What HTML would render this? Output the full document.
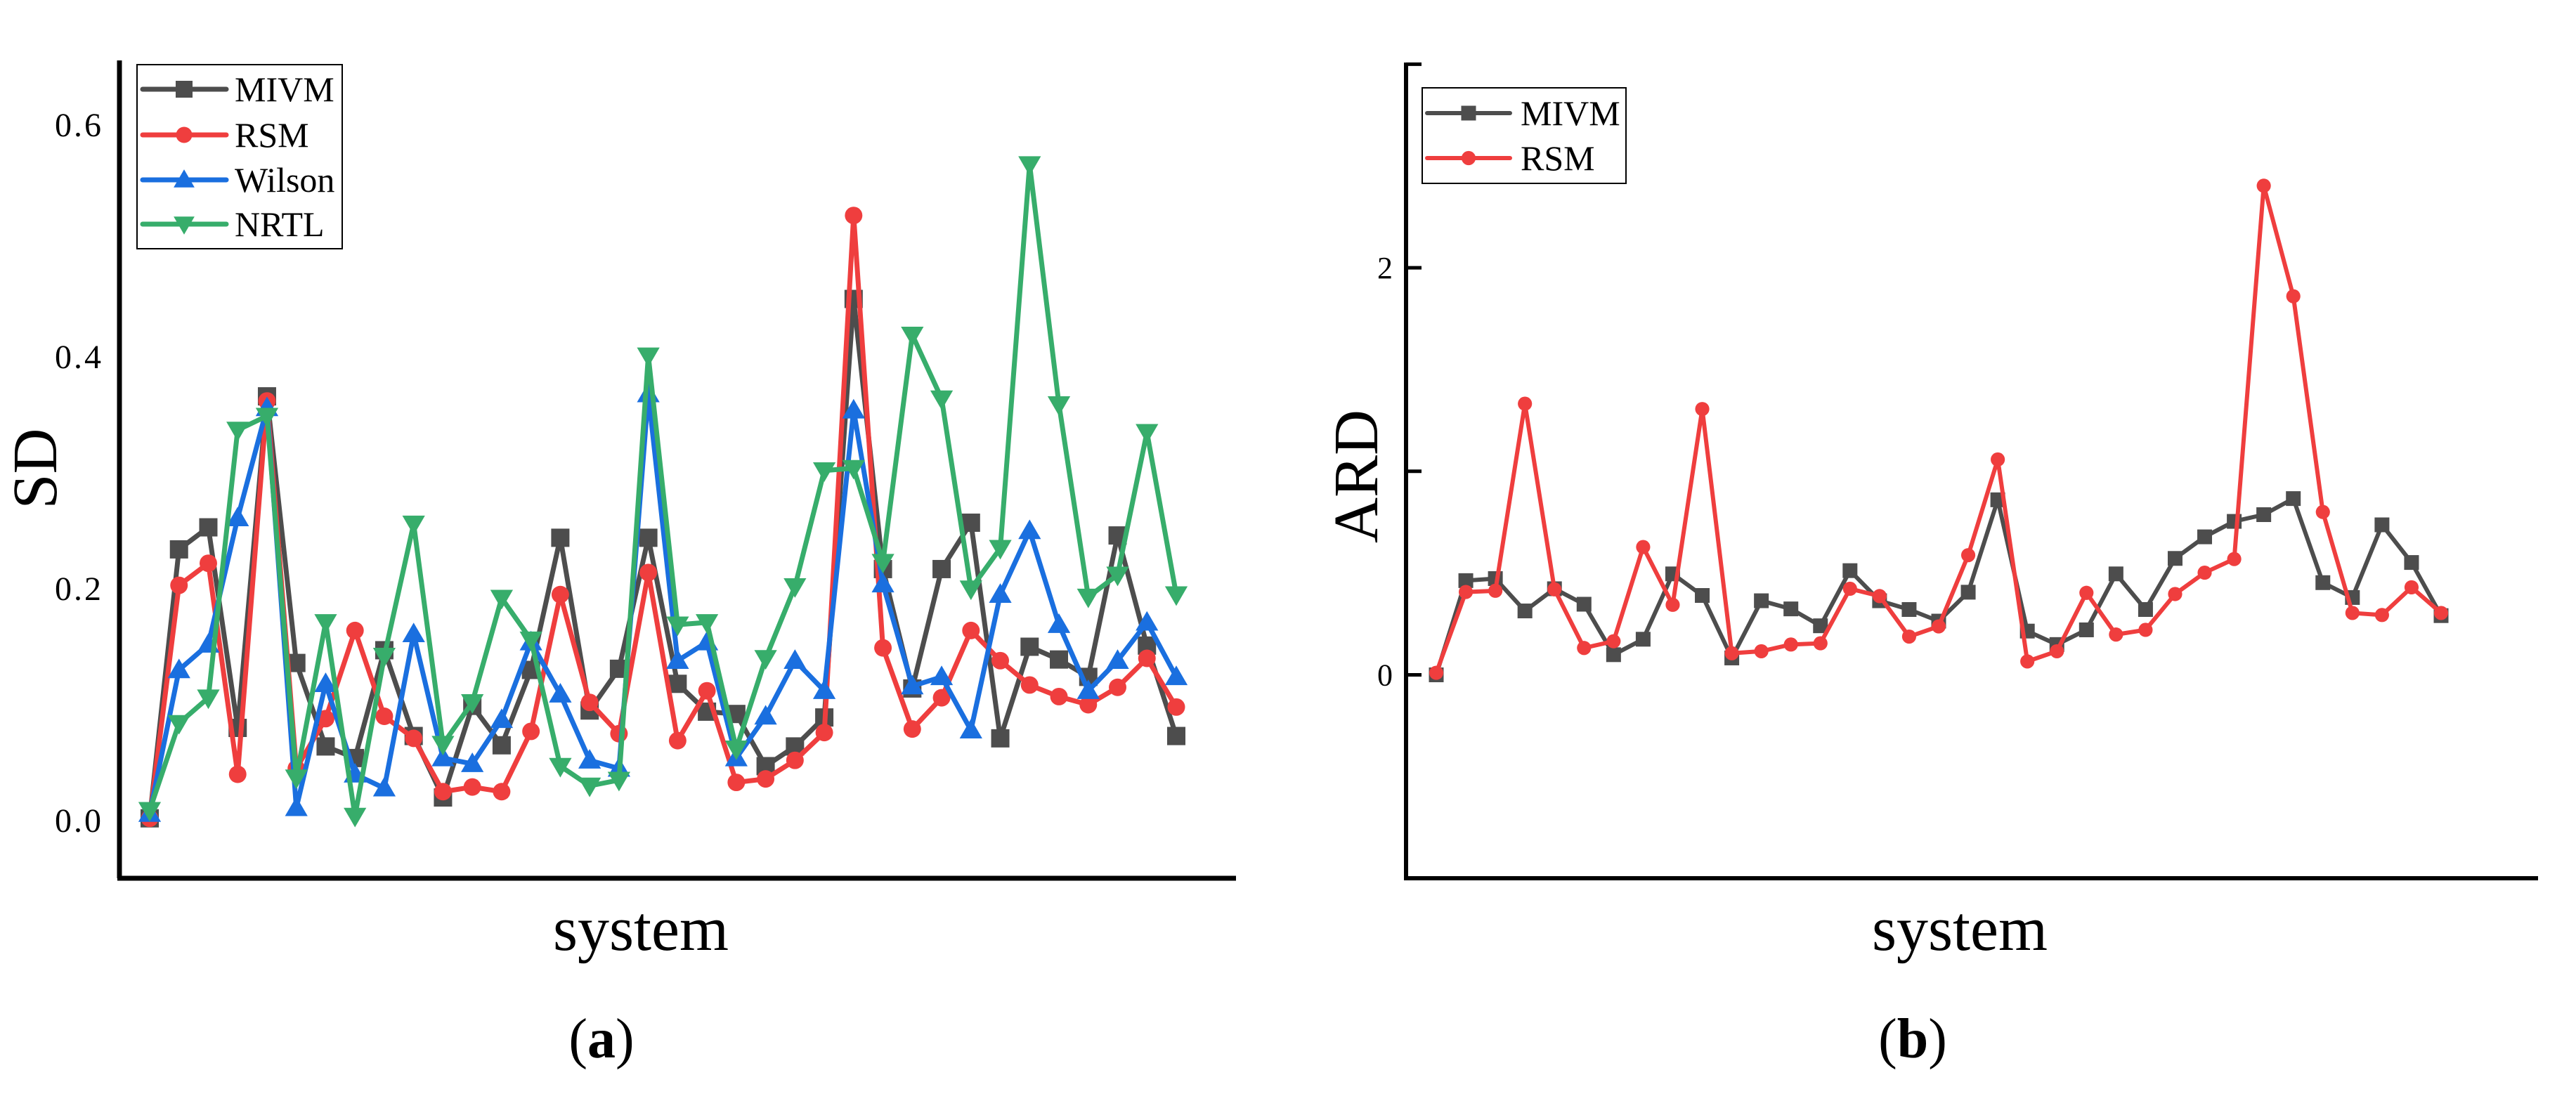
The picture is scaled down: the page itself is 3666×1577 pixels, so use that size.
<!DOCTYPE html>
<html><head><meta charset="utf-8">
<style>
html,body{margin:0;padding:0;background:#fff;}
svg{display:block;font-family:"Liberation Serif",serif;}
</style></head>
<body>
<svg id="chart" width="3666" height="1577" viewBox="0 0 3666 1577" xmlns="http://www.w3.org/2000/svg">
<rect x="0" y="0" width="3666" height="1577" fill="#fff"/>
<g id="panelA">
  <line x1="170" y1="86" x2="170" y2="1250" stroke="#000" stroke-width="7"/>
  <line x1="167" y1="1250" x2="1759" y2="1250" stroke="#000" stroke-width="7"/>
  <text transform="translate(80,667) rotate(-90)" text-anchor="middle" font-size="90">SD</text>
  <text x="912" y="1352" text-anchor="middle" font-size="90">system</text>
  <text x="856" y="1505" text-anchor="middle" font-size="80">(<tspan font-weight="bold">a</tspan>)</text>
  <g id="aTicks"></g>
  <g id="aSeries"></g>
  <g id="aLegend">
    <rect x="195" y="92" width="292" height="262" fill="#fff" stroke="#000" stroke-width="2"/>
  </g>
</g>
<g id="panelB">
  <line x1="2001" y1="89" x2="2001" y2="1252" stroke="#000" stroke-width="6"/>
  <line x1="1998" y1="1250" x2="3612" y2="1250" stroke="#000" stroke-width="6"/>
  <text transform="translate(1960,678) rotate(-90)" text-anchor="middle" font-size="90">ARD</text>
  <text x="2789" y="1352" text-anchor="middle" font-size="90">system</text>
  <text x="2722" y="1505" text-anchor="middle" font-size="80">(<tspan font-weight="bold">b</tspan>)</text>
  <g id="bTicks"></g>
  <g id="bSeries"></g>
  <g id="bLegend">
    <rect x="2024" y="125" width="290" height="136" fill="#fff" stroke="#000" stroke-width="2"/>
  </g>
</g>
</svg>
<script>
// Panel (a) data
const aTickValues = [0.0, 0.2, 0.4, 0.6];
const aTickLabels = ["0.0", "0.2", "0.4", "0.6"];
const aMIVM = [0.002,0.234,0.253,0.080,0.366,0.136,0.064,0.054,0.147,0.073,0.020,0.099,0.065,0.130,0.244,0.095,0.131,0.244,0.118,0.094,0.092,0.047,0.064,0.089,0.450,0.217,0.114,0.217,0.257,0.071,0.150,0.139,0.124,0.246,0.151,0.073];
const aRSM = [0.002,0.203,0.222,0.040,0.362,0.045,0.088,0.164,0.090,0.071,0.025,0.029,0.025,0.077,0.195,0.102,0.075,0.214,0.069,0.112,0.033,0.036,0.052,0.076,0.522,0.149,0.079,0.106,0.164,0.138,0.117,0.107,0.100,0.115,0.140,0.098];
const aWilson = [0.006,0.130,0.152,0.261,0.356,0.011,0.118,0.040,0.028,0.161,0.054,0.049,0.087,0.154,0.109,0.052,0.045,0.368,0.138,0.154,0.054,0.090,0.138,0.112,0.354,0.204,0.116,0.124,0.078,0.195,0.250,0.169,0.112,0.138,0.171,0.124];
const aNRTL = [0.009,0.084,0.106,0.337,0.349,0.037,0.171,0.004,0.142,0.256,0.066,0.102,0.192,0.156,0.047,0.030,0.035,0.401,0.169,0.171,0.062,0.140,0.202,0.302,0.304,0.223,0.419,0.364,0.200,0.235,0.566,0.359,0.193,0.212,0.335,0.195];
// Panel (b) data
const bTickValues = [-1, 0, 1, 2, 3];
const bTickLabels = ["", "0", "", "2", ""];
const bMIVM = [0,0.463,0.473,0.314,0.423,0.347,0.099,0.175,0.496,0.390,0.083,0.364,0.324,0.241,0.512,0.364,0.321,0.264,0.406,0.860,0.215,0.149,0.221,0.496,0.321,0.572,0.678,0.754,0.787,0.866,0.453,0.380,0.737,0.552,0.291];
const bRSM = [0.010,0.407,0.413,1.332,0.420,0.132,0.165,0.628,0.344,1.306,0.106,0.116,0.149,0.155,0.423,0.387,0.188,0.238,0.588,1.058,0.066,0.116,0.403,0.198,0.221,0.397,0.502,0.569,2.403,1.860,0.800,0.304,0.294,0.430,0.304];

const NS = "http://www.w3.org/2000/svg";
const COL = {MIVM:"#4d4d4d", RSM:"#ef3e3e", Wilson:"#1a6fdf", NRTL:"#37ad6b"};
function mk(tag, attrs, parent){ const e=document.createElementNS(NS,tag); for(const k in attrs) e.setAttribute(k,attrs[k]); parent.appendChild(e); return e; }

function axScale(i){ return 213 + i*(1674-213)/(aMIVM.length-1); }
function ayScale(v){ return 1168 - v*1650; }
function bxScale(i){ return 2044 + i*(3474-2044)/(bMIVM.length-1); }
function byScale(v){ return 960.5 - v*289.7; }

function marker(kind, x, y, color, s, parent, name){
  let e;
  if(kind==="square") e=mk("rect",{x:x-s/2,y:y-s/2,width:s,height:s,fill:color},parent);
  else if(kind==="circle") e=mk("circle",{cx:x,cy:y,r:s*0.48,fill:color},parent);
  else if(kind==="up") e=mk("polygon",{points:`${x},${y-s*0.62} ${x-s*0.62},${y+s*0.45} ${x+s*0.62},${y+s*0.45}`,fill:color},parent);
  else e=mk("polygon",{points:`${x},${y+s*0.62} ${x-s*0.62},${y-s*0.45} ${x+s*0.62},${y-s*0.45}`,fill:color},parent);
  
  
}

function drawSeries(parent, vals, xs, ys, color, kind, lw, ms, name){
  const g = mk("g",{},parent);
  
  
  const pts = vals.map((v,i)=>xs(i)+","+ys(v)).join(" ");
  const pl = mk("polyline",{points:pts,fill:"none",stroke:color,"stroke-width":lw,"stroke-linejoin":"round"},g);
  
  
  vals.forEach((v,i)=>marker(kind, xs(i), ys(v), color, ms, g, name+'-point'));
}

const aT = document.getElementById("aTicks");
aTickValues.forEach((v,i)=>{
  const t = mk("text",{x:147,y:ayScale(v)+16,"text-anchor":"end","font-size":"48","letter-spacing":"3"},aT);
  t.textContent = aTickLabels[i];
  
  
});
const aS = document.getElementById("aSeries");
drawSeries(aS, aMIVM, axScale, ayScale, COL.MIVM, "square", 7, 26, "a-mivm");
drawSeries(aS, aRSM, axScale, ayScale, COL.RSM, "circle", 7, 26, "a-rsm");
drawSeries(aS, aWilson, axScale, ayScale, COL.Wilson, "up", 7, 26, "a-wilson");
drawSeries(aS, aNRTL, axScale, ayScale, COL.NRTL, "down", 7, 26, "a-nrtl");

const aL = document.getElementById("aLegend");
const aLegItems = [["MIVM","square",127],["RSM","circle",192],["Wilson","up",256],["NRTL","down",319]];
aLegItems.forEach(it=>{
  const ln = mk("line",{x1:203,y1:it[2],x2:322,y2:it[2],stroke:COL[it[0]],"stroke-width":7,"stroke-linecap":"round"},aL);
  
  
  marker(it[1], 262, it[2], COL[it[0]], 24, aL, 'legend-marker-'+it[0].toLowerCase());
  const t = mk("text",{x:334,y:it[2]+17,"font-size":"50"},aL);
  t.textContent = it[0];
  
  
});

const bT = document.getElementById("bTicks");
bTickValues.forEach((v,i)=>{
  const y = byScale(v);
  const tk = mk("line",{x1:2001,y1:y,x2:2023,y2:y,stroke:"#000","stroke-width":5},bT);
  
  
  if(bTickLabels[i]!==""){
    const t = mk("text",{x:1982,y:y+15,"text-anchor":"end","font-size":"44"},bT);
    t.textContent = bTickLabels[i];
    
    
  }
});
const bS = document.getElementById("bSeries");
drawSeries(bS, bMIVM, bxScale, byScale, COL.MIVM, "square", 6, 21, "b-mivm");
drawSeries(bS, bRSM, bxScale, byScale, COL.RSM, "circle", 6, 21, "b-rsm");

const bL = document.getElementById("bLegend");
const bLegItems = [["MIVM","square",161],["RSM","circle",225]];
bLegItems.forEach(it=>{
  const ln = mk("line",{x1:2031,y1:it[2],x2:2149,y2:it[2],stroke:COL[it[0]],"stroke-width":6,"stroke-linecap":"round"},bL);
  
  
  marker(it[1], 2090, it[2], COL[it[0]], 21, bL, 'b-legend-marker-'+it[0].toLowerCase());
  const t = mk("text",{x:2164,y:it[2]+17,"font-size":"50"},bL);
  t.textContent = it[0];
  
  
});
</script>
</body></html>
